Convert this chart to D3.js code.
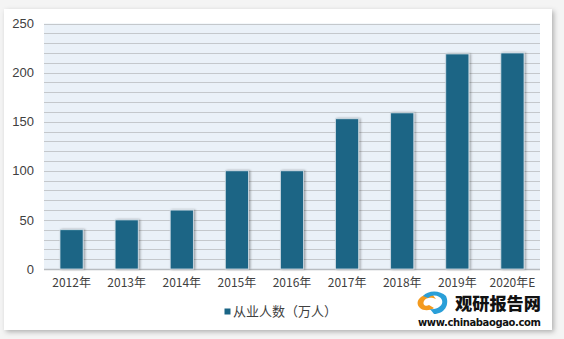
<!DOCTYPE html>
<html><head><meta charset="utf-8">
<script src="https://cdn.jsdelivr.net/npm/d3@7/dist/d3.min.js"></script>
<style>
html,body{margin:0;padding:0;background:#fff;}
svg{display:block;}
</style></head>
<body>
<svg id="chart" width="564" height="339"></svg>
<script>
const categories = ["2012年","2013年","2014年","2015年","2016年","2017年","2018年","2019年","2020年E"];
const values = [40, 50, 60, 100, 100, 153, 159, 219, 220];
const yTicks = [0, 50, 100, 150, 200, 250];
const gridTicks = d3.range(0, 251, 10);
const seriesName = "从业人数（万人）";

const svg = d3.select("#chart");
const defs = svg.append("defs");
const f = defs.append("filter").attr("id","shadow").attr("x","-5%").attr("y","-5%").attr("width","110%").attr("height","115%");
f.append("feDropShadow").attr("dx",2).attr("dy",2).attr("stdDeviation",2.5).attr("flood-color","#000").attr("flood-opacity",0.28);
const fb = defs.append("filter").attr("id","barshadow").attr("x","-30%").attr("y","-5%").attr("width","160%").attr("height","115%");
fb.append("feDropShadow").attr("dx",1.5).attr("dy",0).attr("stdDeviation",1.2).attr("flood-color","#000").attr("flood-opacity",0.35);

svg.append("rect").attr("width",564).attr("height",339).attr("fill","#f4f4f4");
svg.append("rect").attr("x",4).attr("y",9).attr("width",548).attr("height",321).attr("fill","#fff").attr("filter","url(#shadow)");

const m = {l:44, r:540, t:23.5, b:269};
const x = d3.scaleBand().domain(categories).range([m.l, m.r]).paddingInner(0.58).paddingOuter(0.29);
const y = d3.scaleLinear().domain([0,250]).range([m.b, m.t]);

svg.append("rect").attr("x",m.l).attr("y",m.t).attr("width",m.r-m.l).attr("height",m.b-m.t).attr("fill","#eaf1f8");

svg.append("g").selectAll("line").data(gridTicks).join("line")
  .attr("x1",m.l).attr("x2",m.r)
  .attr("y1",d=>Math.round(y(d))+0.5).attr("y2",d=>Math.round(y(d))+0.5)
  .attr("stroke",d=>d===0?"#b8bcc0":"#c4c8cc").attr("stroke-width",d=>d===0?1.5:1);

const yAxis = d3.axisLeft(y).tickValues(yTicks).tickSize(0).tickPadding(10);
const gy = svg.append("g").attr("transform",`translate(${m.l},0)`).call(yAxis);
gy.select(".domain").remove();
gy.selectAll("text").attr("font-family","'Liberation Sans', Arial, sans-serif").attr("font-size",13).attr("fill","#404040");

svg.append("g").selectAll("rect").data(values).join("rect")
  .attr("x",(d,i)=>x(categories[i]))
  .attr("width",x.bandwidth())
  .attr("y",d=>y(d))
  .attr("height",d=>y(0)-y(d))
  .attr("fill","#1a6585")
  .attr("stroke","#d6e0e8").attr("stroke-width",0.8)
  .attr("filter","url(#barshadow)");

const xAxis = d3.axisBottom(x).tickSize(0).tickPadding(9);
const gx = svg.append("g").attr("transform",`translate(0,${m.b})`).call(xAxis);
gx.select(".domain").remove();
gx.selectAll("text").attr("font-family","'Noto Sans CJK SC', sans-serif").attr("font-size",12).attr("fill","#404040");

const lg = svg.append("g");
lg.append("rect").attr("x",224.5).attr("y",308.5).attr("width",6).attr("height",6).attr("fill","#1a6585");
lg.append("text").attr("x",233).attr("y",316).attr("font-family","'Noto Sans CJK SC', sans-serif").attr("font-size",13).attr("fill","#404040").text(seriesName);

// watermark
const wm = svg.append("g");
wm.append("path").attr("d","M432,294 C420,294 414,302 420,308 C423,311 430,311 434,308 L429,305 C426,307 422,305 424,301 C426,297 432,297 436,299 Z").attr("fill","#f39a1e");
wm.append("path").attr("d","M446,296 C440,290 428,290 423,296 L428,298 C432,294 440,295 442,300 C444,306 436,310 430,309 L434,314 C444,314 450,305 446,296 Z").attr("fill","#2a9fd8");
wm.append("text").attr("x",455).attr("y",310).attr("font-family","'Noto Sans CJK SC', sans-serif").attr("font-weight",900).attr("font-size",17).attr("fill","#111").attr("textLength",86).attr("lengthAdjust","spacingAndGlyphs").text("观研报告网");
wm.append("text").attr("x",418).attr("y",326).attr("font-family","'DejaVu Sans', sans-serif").attr("font-weight","bold").attr("font-size",10).attr("fill","#111").attr("textLength",123).text("www.chinabaogao.com");
</script>
</body></html>
